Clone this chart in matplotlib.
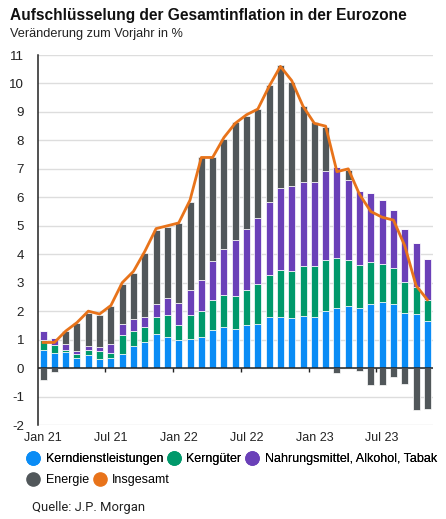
import numpy as np
import matplotlib
matplotlib.use('Agg')
import matplotlib.pyplot as plt
from matplotlib.lines import Line2D

plt.rcParams['font.family'] = ['Liberation Sans', 'DejaVu Sans']
plt.rcParams['axes.unicode_minus'] = False

# Monatswerte Jan 21 .. Nov 23, Beiträge in Prozentpunkten
kern_dl = [0.62, 0.53, 0.56, 0.37, 0.47, 0.32, 0.35, 0.49, 0.76, 0.90, 1.19, 1.09,
           0.97, 1.02, 1.09, 1.35, 1.44, 1.37, 1.52, 1.55, 1.78, 1.81, 1.76, 1.84,
           1.81, 1.99, 2.11, 2.17, 2.11, 2.25, 2.32, 2.26, 1.95, 1.91, 1.64]
kern_gueter = [0.37, 0.27, 0.08, 0.12, 0.17, 0.29, 0.18, 0.68, 0.55, 0.54, 0.62, 0.76,
               0.55, 0.85, 0.92, 1.03, 1.12, 1.17, 1.23, 1.40, 1.50, 1.64, 1.66, 1.73,
               1.79, 1.81, 1.75, 1.63, 1.51, 1.46, 1.33, 1.27, 1.09, 0.93, 0.76]
nahrung = [0.32, 0.24, 0.20, 0.11, 0.14, 0.13, 0.32, 0.39, 0.41, 0.37, 0.44, 0.61,
           0.76, 0.88, 1.09, 1.39, 1.63, 1.95, 2.13, 2.32, 2.57, 2.87, 2.96, 2.98,
           2.95, 3.14, 3.22, 2.81, 2.61, 2.43, 2.26, 2.03, 1.85, 1.55, 1.44]
energie = [-0.41, -0.14, 0.47, 1.00, 1.17, 1.14, 1.33, 1.39, 1.61, 2.23, 2.61, 2.48,
           2.81, 3.10, 4.33, 3.66, 3.85, 4.16, 3.96, 3.83, 4.10, 4.33, 3.66, 2.67,
           2.09, 1.54, -0.18, 0.35, -0.12, -0.61, -0.61, -0.32, -0.55, -1.46, -1.44]
insgesamt = [0.9, 0.9, 1.3, 1.6, 2.0, 1.9, 2.2, 3.0, 3.4, 4.1, 4.9, 5.0,
             5.1, 5.9, 7.4, 7.4, 8.1, 8.6, 8.9, 9.1, 9.9, 10.6, 10.1, 9.2,
             8.6, 8.5, 6.9, 7.0, 6.1, 5.5, 5.3, 5.2, 4.3, 2.9, 2.4]

tick_pos = [0, 6, 12, 18, 24, 30]
tick_labels = ['Jan 21', 'Jul 21', 'Jan 22', 'Jul 22', 'Jan 23', 'Jul 23']

c_blue = '#0A8CF5'
c_green = '#00996B'
c_purple = '#6A40B8'
c_dark = '#51575A'
c_orange = '#E8731A'

x = np.arange(len(insgesamt))
dl = np.array(kern_dl)
kg = np.array(kern_gueter)
na = np.array(nahrung)
en = np.array(energie)

fig = plt.figure(figsize=(4.46, 5.19), dpi=100)
ax = fig.add_axes([38 / 446, 1 - 425 / 519, 395 / 446, 370 / 519])

w = 0.62
kw = dict(width=w, edgecolor='white', linewidth=0.5, zorder=2)
ax.bar(x, dl, color=c_blue, **kw)
ax.bar(x, kg, bottom=dl, color=c_green, **kw)
ax.bar(x, na, bottom=dl + kg, color=c_purple, **kw)
en_pos = np.where(en > 0, en, 0)
en_neg = np.where(en < 0, en, 0)
ax.bar(x, en_pos, bottom=dl + kg + na, color=c_dark, **kw)
ax.bar(x, en_neg, color=c_dark, **kw)

ax.plot(x, insgesamt, color=c_orange, lw=2, zorder=4, solid_joinstyle='round')

ax.axhline(0, color='#222222', lw=1.1, zorder=3)
ax.vlines(np.array(tick_pos[1:]) - 0.5, -0.13, 0, color='#222222', lw=1, zorder=3)

ax.set_ylim(-2, 11)
ax.set_xlim(-0.45, 34.5)
ax.set_yticks(range(-2, 12))
ax.set_xticks(tick_pos)
ax.set_xticklabels(tick_labels)
ax.tick_params(axis='both', length=0, colors='#222222')
ax.tick_params(axis='x', labelsize=9, pad=5)
ax.tick_params(axis='y', labelsize=9.6, pad=10)

ax.grid(axis='y', color='#DDDDDD', lw=1, zorder=0)
ax.set_axisbelow(True)
for s in ['top', 'right', 'bottom']:
    ax.spines[s].set_visible(False)
ax.spines['left'].set_color('#222222')
ax.spines['left'].set_linewidth(1.1)

fig.text(10 / 446, 1 - 20 / 519, 'Aufschlüsselung der Gesamtinflation in der Eurozone',
         fontsize=11.2, fontweight='bold', va='baseline', ha='left', color='#111111')
fig.text(10 / 446, 1 - 37 / 519, 'Veränderung zum Vorjahr in %',
         fontsize=9.2, va='baseline', ha='left', color='#222222')


def handle(c):
    return Line2D([], [], ls='none', marker='o', markersize=9.5, color=c)


leg_kw = dict(frameon=False, fontsize=9.0, handlelength=1.0, handletextpad=0.5,
              columnspacing=0.35, borderpad=0, borderaxespad=0, loc='center left')
leg1 = fig.legend([handle(c_blue), handle(c_green), handle(c_purple)],
                  ['Kerndienstleistungen', 'Kerngüter', 'Nahrungsmittel, Alkohol, Tabak'],
                  ncol=3, bbox_to_anchor=(27 / 446, 1 - 459 / 519), **leg_kw)
leg2 = fig.legend([handle(c_dark), handle(c_orange)],
                  ['Energie', 'Insgesamt'],
                  ncol=2, bbox_to_anchor=(27 / 446, 1 - 480 / 519), **leg_kw)
fig.add_artist(leg1)

fig.text(32 / 446, 1 - 508 / 519, 'Quelle: J.P. Morgan', fontsize=9.4,
         family=['Roboto', 'DejaVu Sans'], va='center', ha='left', color='#222222')

fig.savefig('out.png', dpi=100, facecolor='white')
